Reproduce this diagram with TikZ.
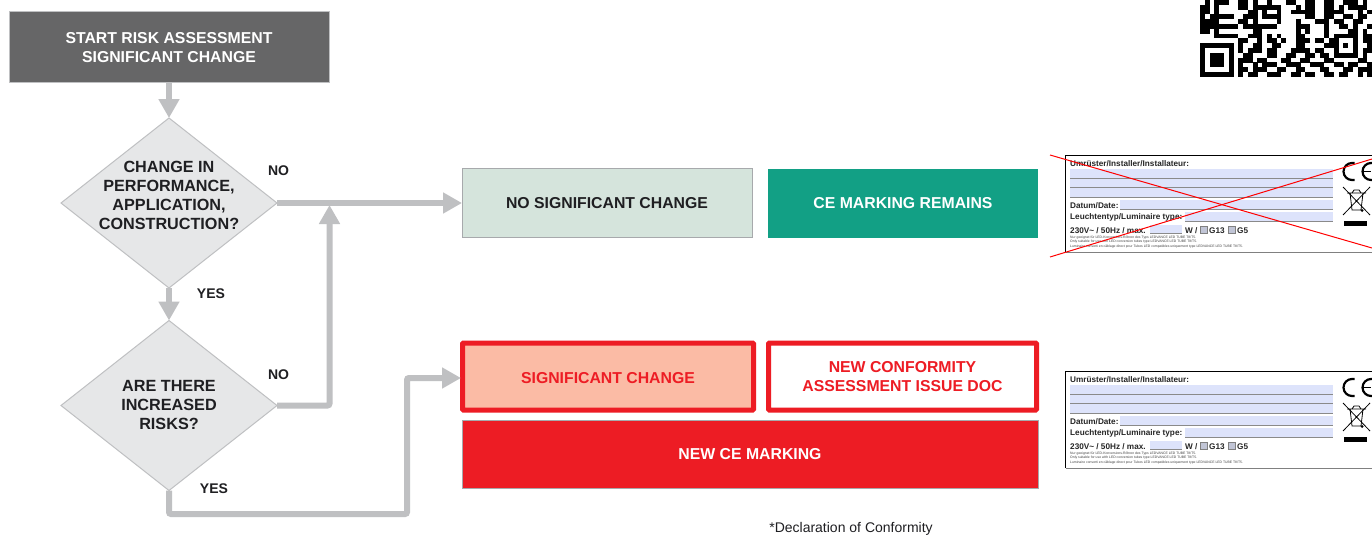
\documentclass[tikz,border=0pt]{standalone}
\usepackage{fontspec}
\setmainfont{Liberation Sans}
\usetikzlibrary{arrows.meta,shapes.geometric}
\definecolor{conngray}{HTML}{BFC0C2}
\definecolor{dfill}{HTML}{E6E7E8}
\definecolor{bdgray}{HTML}{A7A9AC}
\definecolor{startfill}{HTML}{666667}
\definecolor{inkdark}{HTML}{1F1F22}
\definecolor{nosigfill}{HTML}{D5E4DC}
\definecolor{cefill}{HTML}{12A085}
\definecolor{redm}{HTML}{ED1C24}
\definecolor{sigfill}{HTML}{FBBBA5}
\definecolor{fieldblue}{HTML}{DDE3FB}
\definecolor{fieldline}{HTML}{8A8A8A}
\tikzset{
  boxbase/.style={rectangle,inner sep=0pt,outer sep=0pt,align=center,font=\bfseries\fontsize{15.8}{19}\selectfont},
  diam/.style={diamond,draw=conngray,fill=dfill,line width=1pt,inner sep=0pt,outer sep=0pt,shape aspect=1.27,minimum width=216pt,minimum height=170pt},
  dtext/.style={align=center,text=inkdark,inner sep=0pt,font=\bfseries\fontsize{16.2}{19}\selectfont},
  conn/.style={draw=conngray,line width=6pt,rounded corners=2pt,-{Triangle[width=20pt,length=19pt]}},
  branchlabel/.style={text=inkdark,inner sep=0pt,font=\bfseries\fontsize{14}{16}\selectfont},
  platetext/.style={anchor=base west,inner sep=0pt,text=black!85,font=\bfseries\fontsize{8.2}{10}\selectfont},
  platesmall/.style={anchor=base west,inner sep=0pt,text=black!75,font=\fontsize{3.4}{4}\selectfont},
  crossline/.style={draw=red,line width=1pt},
  field/.style={fill=fieldblue},
  fieldrule/.style={draw=fieldline,line width=1pt},
  checkbox/.style={fill=fieldblue!70!gray,draw=gray,line width=.4pt},
}
\newcount\qrc
\def\qrparse#1{\ifx#1;\else
  \if#11\fill[black] ({1200+4.78*\the\qrc},{\qrrow*4.8}) rectangle ++(4.9,4.9);\fi
  \advance\qrc by 1 \expandafter\qrparse\fi}
\newcommand{\plate}[2]{%
\begin{scope}[yshift=#2]
  \fill[white] (1065,155) rectangle (1372,252);
  \draw[black,line width=1pt] (1372,155.5) -- (1065.5,155.5) -- (1065.5,252);
  \draw[gray,line width=.8pt] (1065.5,252) -- (1372,252);
  \foreach \ya in {169,178.5,188}{
    \fill[field] (1070,\ya) rectangle (1333,\ya+9);
    \draw[fieldrule] (1070,\ya+9) -- (1333,\ya+9);
  }
  \fill[field] (1120,200) rectangle (1333,209); \draw[fieldrule] (1120,209) -- (1333,209);
  \fill[field] (1185,212) rectangle (1333,221); \draw[fieldrule] (1185,221) -- (1333,221);
  \fill[field] (1150,225) rectangle (1182,233); \draw[fieldrule] (1150,233) -- (1182,233);
  \node[platetext] (#1a) at (1070,166.5) {Umrüster/Installer/Installateur:};
  \node[platetext] (#1b) at (1070,208) {Datum/Date:};
  \node[platetext] (#1c) at (1070,219.5) {Leuchtentyp/Luminaire type:};
  \node[platetext] (#1d) at (1070,233) {230V\textasciitilde{} / 50Hz / max.};
  \node[platetext] (#1e) at (1185,233) {W /};
  \draw[checkbox] (1200,226) rectangle (1207,233);
  \node[platetext] (#1f) at (1209,233) {G13};
  \draw[checkbox] (1228,226) rectangle (1235,233);
  \node[platetext] (#1g) at (1237,233) {G5};
  \node[platesmall] (#1h) at (1070,238.5) {Nur geeignet für LED-Konversions-Röhren des Typs LEDVANCE LED TUBE T8/T5.};
  \node[platesmall] (#1i) at (1070,242.7) {Only suitable for use with LED conversion tubes type LEDVANCE LED TUBE T8/T5.};
  \node[platesmall] (#1j) at (1070,247) {Luminaire converti en câblage direct pour Tubes LED compatibles uniquement type LEDVANCE LED TUBE T8/T5.};
  % CE mark
  \draw[black,line width=2.2pt] (1354.5,163) -- (1352,163) arc (270:90:8.5 and 8.5) -- (1354.5,180);
  \draw[black,line width=2.2pt] (1373,163) -- (1371,163) arc (270:90:8.5 and 8.5) -- (1373,180);
  \draw[black,line width=1.8pt] (1362,171.5) -- (1371,171.5);
  % WEEE bin
  \draw[black,line width=.8pt] (1343,187) -- (1370,215) (1370,187) -- (1343,215);
  \draw[black,line width=.8pt] (1347,193) -- (1366,193) (1350,193) -- (1352,210) -- (1361,210) -- (1363,193);
  \draw[black,line width=.8pt] (1352,193) -- (1354,190) -- (1359,190) -- (1361,193);
  \fill[black] (1362,210.5) circle (1.5);
  \fill[black] (1344,221) rectangle (1367,226);
\end{scope}}
\begin{document}
\begin{tikzpicture}[x=1pt,y=-1pt]
\useasboundingbox (0,0) rectangle (1372,535);
\fill[white] (0,0) rectangle (1372,535);
% nodes
\node[boxbase,draw=conngray,line width=1pt,fill=startfill,text=white,minimum width=320pt,minimum height=70pt] (start) at (169,47) {\raisebox{-1pt}[\height][\depth]{START RISK ASSESSMENT}\\\raisebox{-1pt}[\height][\depth]{SIGNIFICANT CHANGE}};
\node[diam,label={[dtext,yshift=7.5pt]center:CHANGE IN\\PERFORMANCE,\\APPLICATION,\\CONSTRUCTION?}] (d1) at (169,203) {};
\node[diam,label={[dtext]center:ARE THERE\\INCREASED\\RISKS?}] (d2) at (169,405.5) {};
\node[boxbase,draw=bdgray,line width=1pt,fill=nosigfill,text=inkdark,minimum width=290pt,minimum height=69pt] (nosig) at (607,203) {NO SIGNIFICANT CHANGE};
\node[boxbase,fill=cefill,text=white,minimum width=270pt,minimum height=69pt] (ceok) at (903,203) {CE MARKING REMAINS};
\node[boxbase,draw=redm,line width=5pt,rounded corners=1pt,fill=sigfill,text=redm,minimum width=291pt,minimum height=67pt] (sig) at (608,376.5) {\raisebox{-2pt}[\height][\depth]{SIGNIFICANT CHANGE}};
\node[boxbase,draw=redm,line width=5pt,rounded corners=1pt,fill=white,text=redm,minimum width=268pt,minimum height=67pt] (conf) at (902.5,376.5) {NEW CONFORMITY\\ASSESSMENT ISSUE DOC};
\node[boxbase,draw=bdgray,line width=1pt,fill=redm,text=white,minimum width=576pt,minimum height=68pt] (newce) at (750,454) {NEW CE MARKING};
% connector way points
\coordinate (j) at (329.5,205);
\coordinate (c1) at (169,514);
\coordinate (c2) at (407,514);
\coordinate (c3) at (407,378);
\coordinate (sigin) at (461,378);
\draw[conn] (start.south) -- (d1.north);
\draw[conn] (d1.south) -- (d2.north);
\draw[conn] (d1.east) -- (nosig.west);
\draw[conn] (d2.east) -| (j);
\draw[conn] (d2.south) -- (c1) -- (c2) -- (c3) -- (sigin);
% branch labels
\node[branchlabel] (n1) at (278.5,170.5) {NO};
\node[branchlabel] (y1) at (211,294) {YES};
\node[branchlabel] (n2) at (278.5,375) {NO};
\node[branchlabel] (y2) at (214,489) {YES};
\node[inner sep=0pt,text=inkdark,font=\fontsize{14}{16}\selectfont] (decl) at (851,529) {*Declaration of Conformity};
% plates
\plate{pa}{0pt}
\plate{pb}{-216pt}
\draw[crossline] (1050,155) -- (1372,248);
\draw[crossline] (1050,257) -- (1372,159);
% QR code
\foreach \qrrow/\qrbits in {
0/010111001101001000110011001100111010,
1/110100001101111110001011001101011110,
2/110100000011010010011111001111000101,
3/101111100111011110000011001100110110,
4/111100001101000010001000111011001100,
5/111111110111111100001110001001101001,
6/110100000001100000001010001000011010,
7/000111110011101010001100001011111011,
8/000000001100101101001110110110001011,
9/111111101001100110001100001110101001,
10/100000101011101100011110110010001011,
11/101110100110001100110011011011111010,
12/101110101110110001100110001100000110,
13/101110101001011100111001110011011001,
14/100000101101110011001100011000110111,
15/111111101011001110011011001101100101}{
  \global\qrc=0
  \expandafter\qrparse\qrbits;
}
\end{tikzpicture}
\end{document}
